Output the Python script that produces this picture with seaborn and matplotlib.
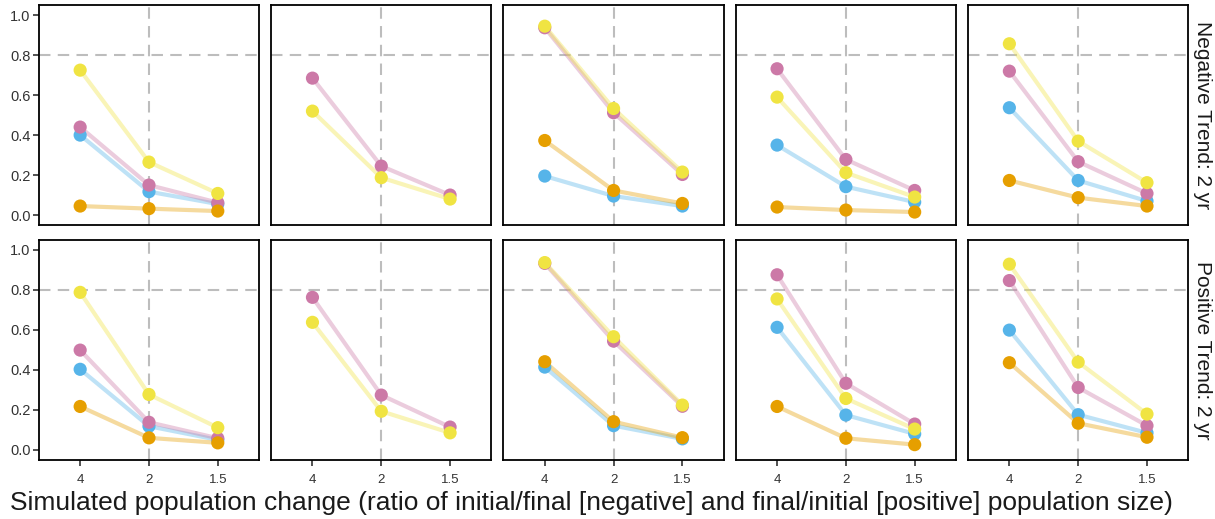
import numpy as np
import pandas as pd
import matplotlib
matplotlib.use("Agg")
import matplotlib.pyplot as plt
import seaborn as sns

# ---- data ----
x_labels = ["4", "2", "1.5"]
row_labels = ["Negative Trend: 2 yr", "Positive Trend: 2 yr"]
series = ["blue", "pink", "yellow", "orange"]  # draw order
palette = {"blue": "#56B4E9", "pink": "#CC79A7", "yellow": "#F0E442", "orange": "#E69F00"}

# Negative trend, panels 1..5
neg_blue = [[0.40, 0.117, 0.055], None, [0.195, 0.095, 0.045], [0.35, 0.142, 0.065], [0.537, 0.173, 0.07]]
neg_pink = [[0.44, 0.15, 0.062], [0.685, 0.245, 0.10], [0.937, 0.512, 0.203], [0.732, 0.278, 0.123], [0.72, 0.267, 0.108]]
neg_yellow = [[0.725, 0.265, 0.108], [0.52, 0.187, 0.08], [0.945, 0.533, 0.215], [0.59, 0.212, 0.09], [0.857, 0.37, 0.162]]
neg_orange = [[0.045, 0.032, 0.02], None, [0.373, 0.123, 0.058], [0.04, 0.025, 0.015], [0.173, 0.087, 0.045]]

# Positive trend, panels 1..5
pos_blue = [[0.403, 0.118, 0.05], None, [0.414, 0.121, 0.055], [0.613, 0.174, 0.08], [0.599, 0.176, 0.085]]
pos_pink = [[0.499, 0.138, 0.058], [0.763, 0.274, 0.114], [0.933, 0.544, 0.218], [0.876, 0.333, 0.129], [0.847, 0.312, 0.121]]
pos_yellow = [[0.788, 0.277, 0.111], [0.638, 0.193, 0.085], [0.937, 0.566, 0.224], [0.755, 0.257, 0.104], [0.929, 0.439, 0.179]]
pos_orange = [[0.217, 0.06, 0.035], None, [0.441, 0.141, 0.061], [0.217, 0.058, 0.026], [0.436, 0.133, 0.063]]

xlabel = ("Simulated population change (ratio of initial/final [negative] "
          "and final/initial [positive] population size)")

# ---- build tidy table ----
tables = {
    row_labels[0]: {"blue": neg_blue, "pink": neg_pink, "yellow": neg_yellow, "orange": neg_orange},
    row_labels[1]: {"blue": pos_blue, "pink": pos_pink, "yellow": pos_yellow, "orange": pos_orange},
}
records = []
for r, tab in tables.items():
    for s in series:
        for p, vals in enumerate(tab[s]):
            if vals is None:
                continue
            for xl, v in zip(x_labels, vals):
                records.append({"row": r, "panel": p, "series": s, "x": xl, "y": v})
df = pd.DataFrame(records)
df["x"] = pd.Categorical(df["x"], categories=x_labels, ordered=True)

# ---- plot ----
sns.set_theme(style="ticks")
plt.rcParams["font.family"] = ["Liberation Sans", "DejaVu Sans"]

fig, axes = plt.subplots(2, 5, figsize=(12.15, 5.19), dpi=100, sharex=True, sharey=True)
fig.subplots_adjust(left=0.032, right=0.978, top=0.990, bottom=0.114, wspace=0.055, hspace=0.068)

for i, r in enumerate(row_labels):
    for p in range(5):
        ax = axes[i, p]
        sub = df[(df["row"] == r) & (df["panel"] == p)]
        hue_order = [s for s in series if s in sub["series"].unique()]
        ax.axhline(0.8, color="#BDBDBD", lw=1.5, ls=(0, (5.5, 3.5)), zorder=0)
        ax.axvline(1, color="#BDBDBD", lw=1.5, ls=(0, (5.5, 3.5)), zorder=0)
        sns.lineplot(data=sub, x="x", y="y", hue="series", hue_order=hue_order,
                     palette=palette, lw=3.0, alpha=0.38, sort=False,
                     legend=False, ax=ax, zorder=2)
        for s in hue_order:
            sns.scatterplot(data=sub[sub["series"] == s], x="x", y="y", color=palette[s],
                            s=90, edgecolor="none", legend=False, ax=ax, zorder=3)
        ax.set_xlim(-0.6, 2.6)
        ax.set_ylim(-0.05, 1.05)
        ax.set_xlabel("")
        ax.set_ylabel("")
        for sp in ax.spines.values():
            sp.set_visible(True)
            sp.set_color("black")
            sp.set_linewidth(1.3)
        ax.tick_params(axis="both", which="both", length=0, colors="#333333")
        if p == 0:
            ax.tick_params(axis="y", length=4, width=1.2, color="#333333", left=True,
                           labelsize=10.5, pad=2)
        if i == 1:
            ax.tick_params(axis="x", length=4, width=1.2, color="#333333", bottom=True,
                           labelsize=9.5, pad=6)
        if p == 4:
            ax.text(1.065, 0.5, r, transform=ax.transAxes, rotation=-90,
                    ha="center", va="center", fontsize=15, color="#1a1a1a")

axes[0, 0].set_yticks([0.0, 0.2, 0.4, 0.6, 0.8, 1.0])
axes[0, 0].set_yticklabels(["0.0", "0.2", "0.4", "0.6", "0.8", "1.0"])
fig.text(0.487, 0.008, xlabel, ha="center", va="bottom", fontsize=19, color="#1a1a1a")

fig.savefig("out.png", dpi=100)
